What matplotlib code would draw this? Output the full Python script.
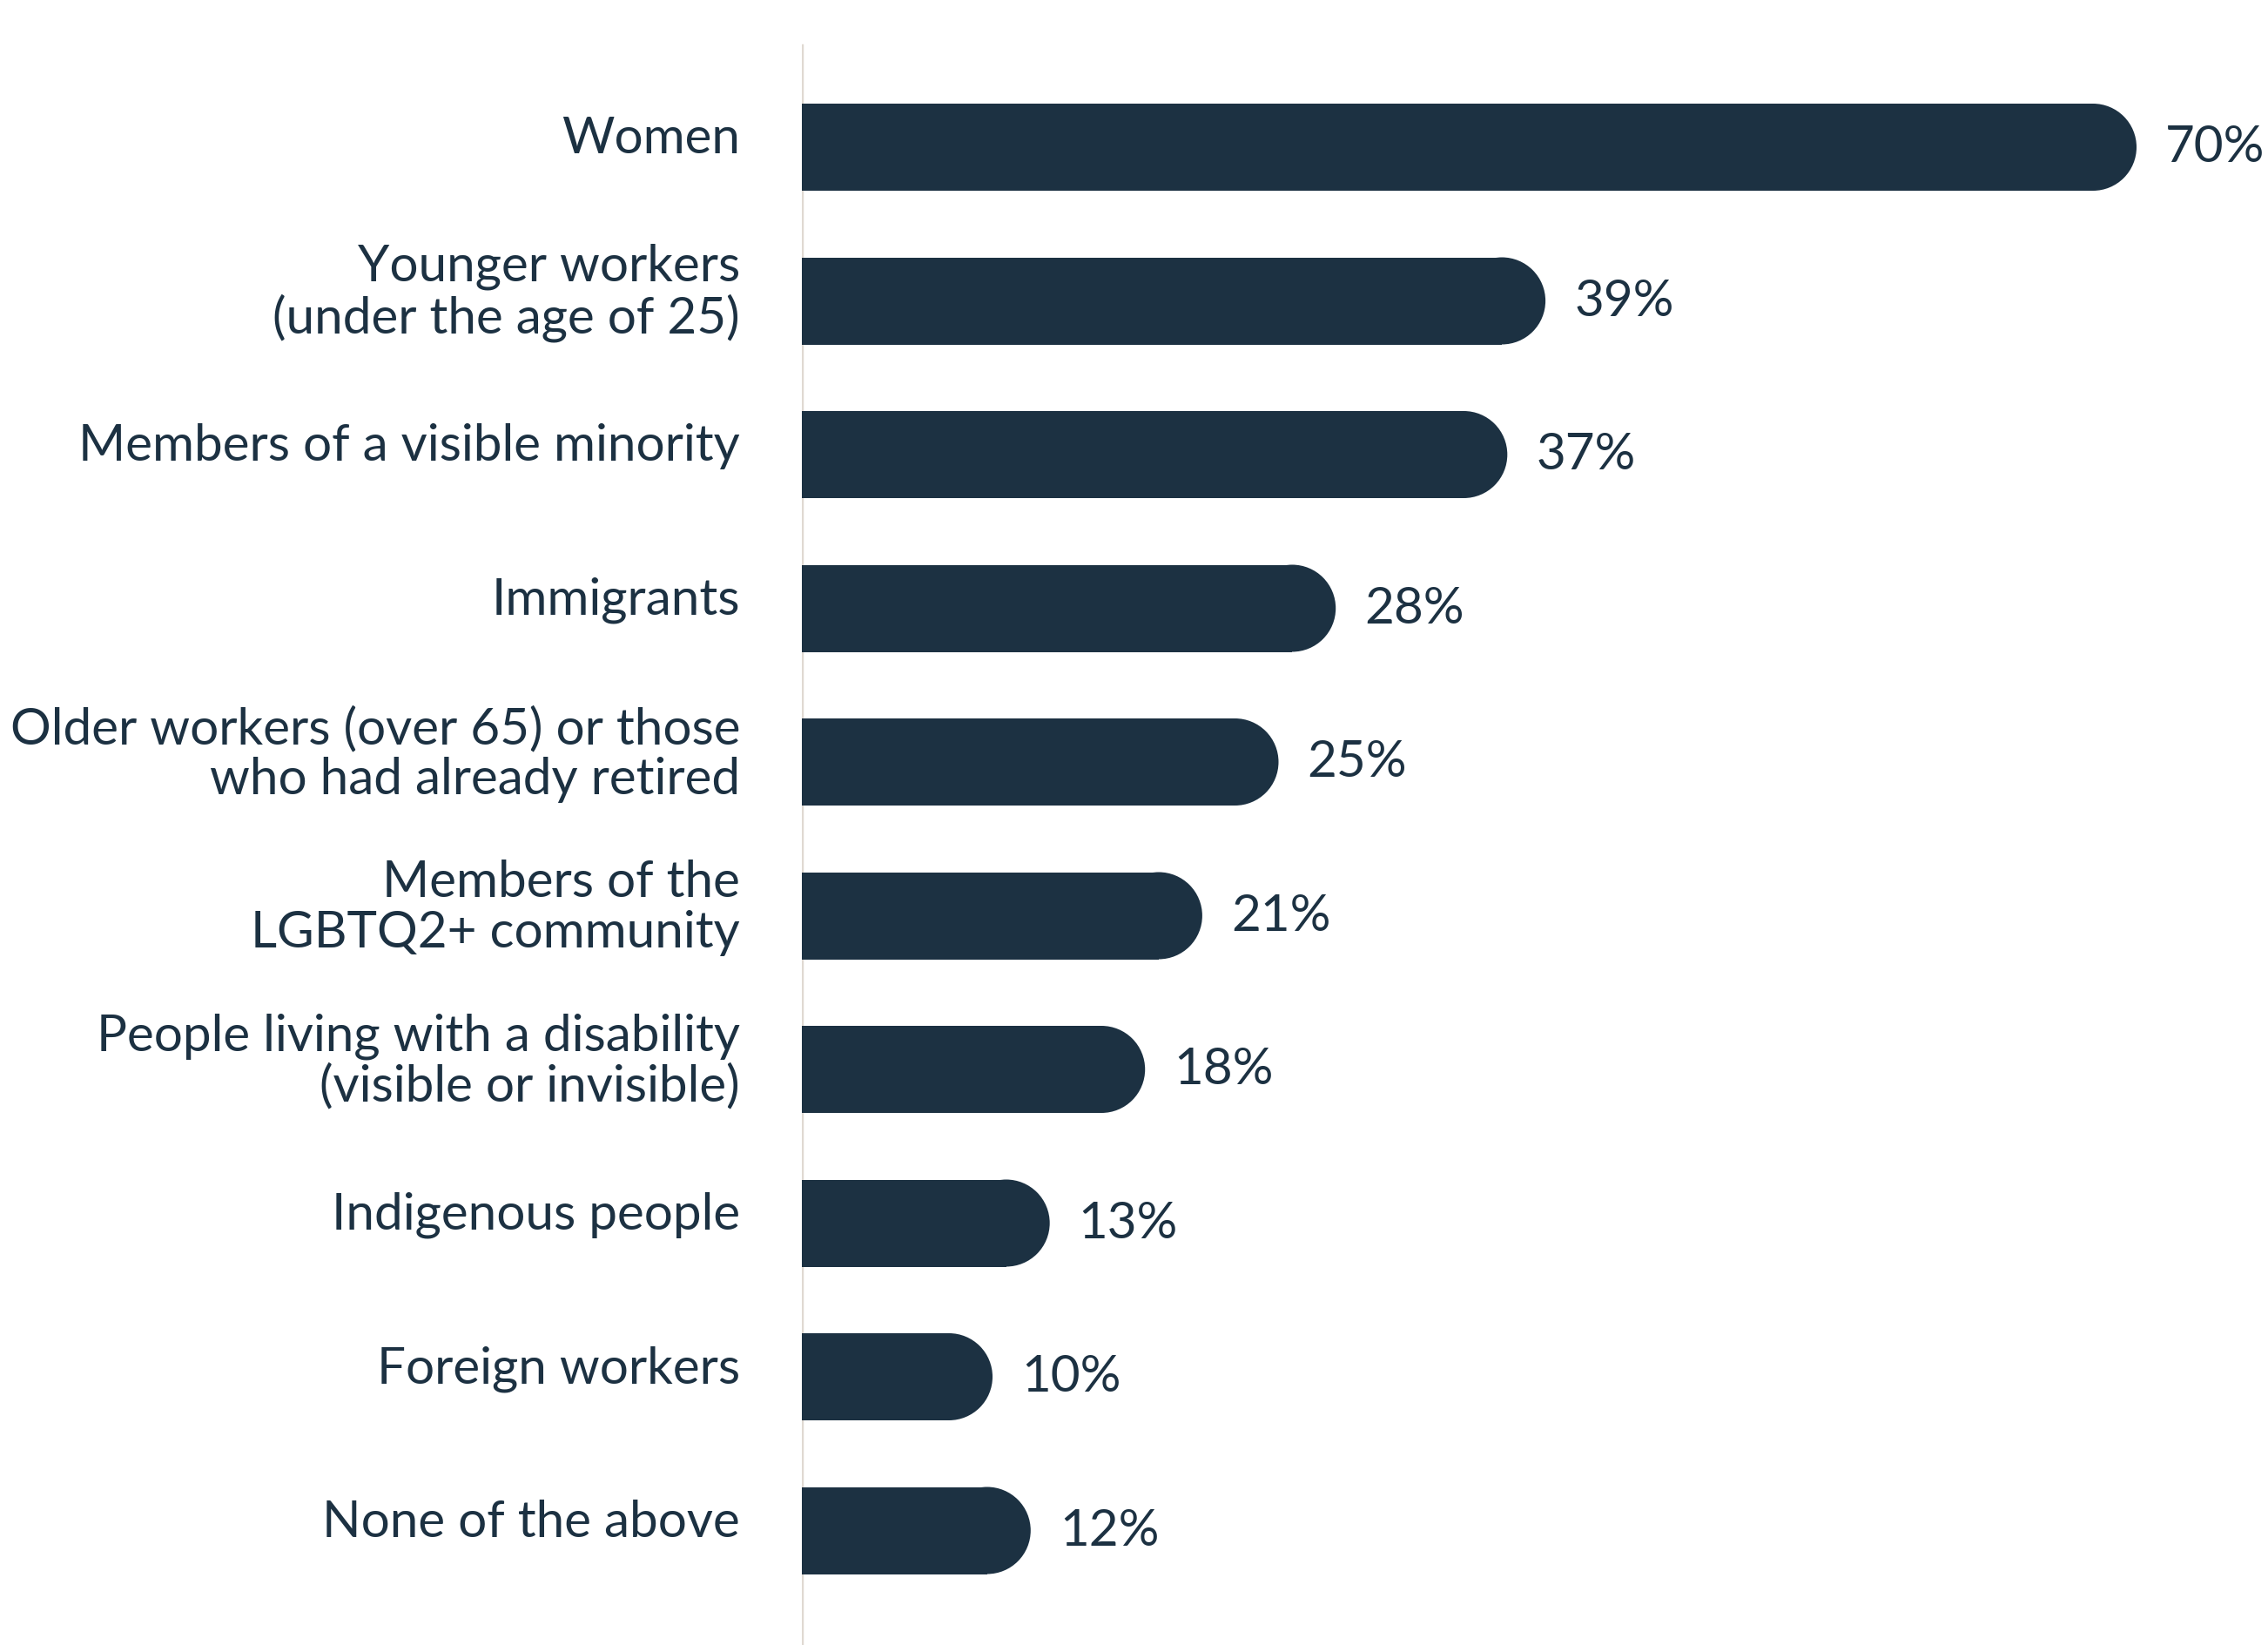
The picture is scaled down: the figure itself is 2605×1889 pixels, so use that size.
import matplotlib.pyplot as plt
from matplotlib.patches import Ellipse

categories = [
    "Women",
    "Younger workers\n(under the age of 25)",
    "Members of a visible minority",
    "Immigrants",
    "Older workers (over 65) or those\nwho had already retired",
    "Members of the\nLGBTQ2+ community",
    "People living with a disability\n(visible or invisible)",
    "Indigenous people",
    "Foreign workers",
    "None of the above",
]
values = [70, 39, 37, 28, 25, 21, 18, 13, 10, 12]
value_labels = ["70%", "39%", "37%", "28%", "25%", "21%", "18%", "13%", "10%", "12%"]

navy = "#1c3142"
rule = "#e0d9d2"

plt.rcParams['font.family'] = ['Lato', 'DejaVu Sans']

W, H = 2605, 1890
fig = plt.figure(figsize=(W / 100, H / 100), dpi=100)
ax0 = 921 / W
ax = fig.add_axes([ax0, 0, 1 - ax0, 1])

px_per_unit = 21.9
ax.set_xlim(0, (W - 921) / px_per_unit)
step = 176.5
top = 170 / step
ax.set_ylim((H - 170) / step, -top)

bar_h = 100 / step
cap = 50 / px_per_unit

ys = list(range(len(values)))
for y, v, lab, cat in zip(ys, values, value_labels, categories):
    ax.barh(y, v - cap, height=bar_h, color=navy, linewidth=0)
    ax.add_patch(Ellipse((v - cap, y), 2 * cap, bar_h, color=navy, linewidth=0))
    ax.text(v + 33 / px_per_unit, y, lab, va='center', ha='left',
            fontsize=42, color=navy)
    # category label, right aligned left of the axis line, sits a bit high
    ax.text(-71 / px_per_unit, y - 10 / step, cat, va='center', ha='right',
            fontsize=42, color=navy, linespacing=1.1, clip_on=False)

ax.set_yticks([])
ax.set_xticks([])
for s in ax.spines.values():
    s.set_visible(False)
ax.axvline(0, ymin=0, ymax=1 - 54 / H, color=rule, linewidth=3.2, zorder=0)

fig.savefig("out.png", dpi=100, facecolor="white")
